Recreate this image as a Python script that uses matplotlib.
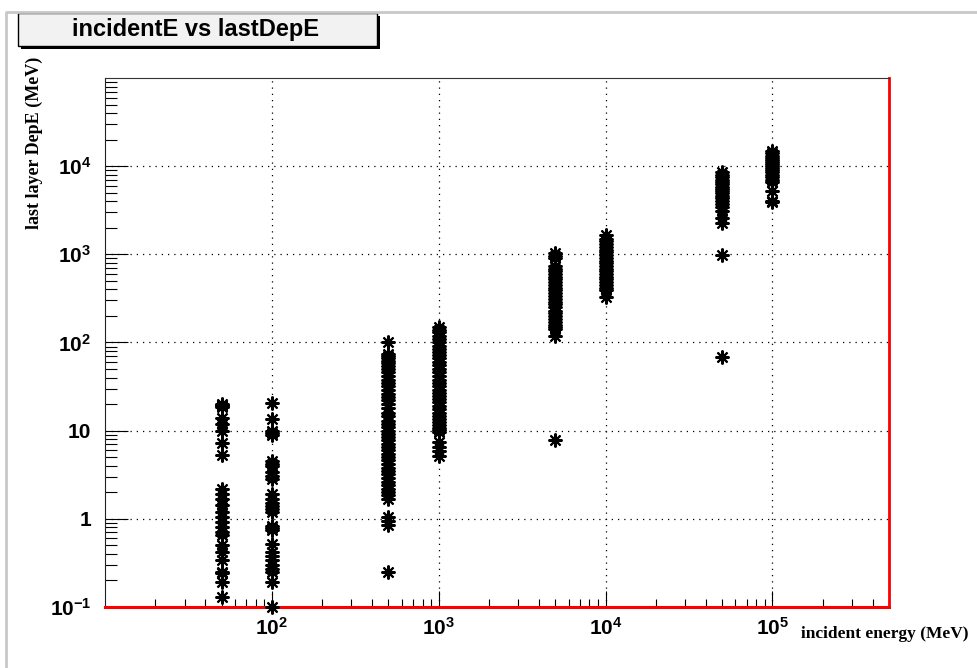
import matplotlib
matplotlib.use('Agg')
import matplotlib.pyplot as plt
from matplotlib.patches import Rectangle
from matplotlib.lines import Line2D
from matplotlib.ticker import LogLocator, NullFormatter

plt.rcParams['font.family'] = 'Liberation Sans'
plt.rcParams['mathtext.fontset'] = 'custom'
plt.rcParams['mathtext.rm'] = 'Liberation Sans:bold'
plt.rcParams['mathtext.it'] = 'Liberation Sans:bold'
plt.rcParams['mathtext.default'] = 'rm'

# incident beam energies [MeV]
e_in = [50, 100, 500, 1000, 5000, 10000, 50000, 100000]

# energy deposited in the last layer [MeV], one list per beam energy
dep_50 = [20, 19.5, 19, 18.5, 13.8, 12, 10, 7.3, 5.3,
          2.19, 1.92, 1.69, 1.42, 1.19, 1.05, 0.92, 0.81, 0.71, 0.65,
          0.5, 0.42, 0.34, 0.25, 0.24, 0.19, 0.13]
dep_100 = [20.6, 13.5, 10, 9.5, 9, 4.5, 4.2, 4, 3.4, 3.1, 2.8,
           1.9, 1.7, 1.5, 1.4, 1.3, 1.2, 0.83, 0.78, 0.74,
           0.52, 0.42, 0.38, 0.34, 0.3, 0.27, 0.25, 0.19, 0.1]
dep_500 = [102, 74, 70, 66, 62, 58, 54, 50, 46, 42, 38, 35, 32, 29, 26,
           24, 22, 20, 18, 16, 14.5, 13, 12, 11, 10, 9.2, 8.5, 7.8, 7.1,
           6.5, 6, 5.5, 5, 4.6, 4.2, 3.8, 3.5, 3.2, 2.9, 2.6, 2.4, 2.2,
           2.0, 1.85, 1.7, 1.05, 0.95, 0.85, 0.25]
dep_1000 = [148, 140, 130, 120, 110, 100, 92, 85, 78, 72, 66, 60, 55,
            50, 46, 42, 38, 35, 32, 29, 27, 25, 23, 21, 19, 17.5, 16,
            14.5, 13.5, 12.5, 11.5, 10.8, 10.2, 9.6, 7.4, 6.5, 5.9, 5.2]
dep_5000 = [1030, 960, 900, 740, 690, 640, 600, 560, 520, 480, 450, 420,
            390, 360, 335, 310, 290, 270, 250, 230, 215, 200, 185, 170,
            160, 150, 142, 118, 7.8]
dep_10000 = [1650, 1500, 1400, 1300, 1200, 1120, 1050, 980, 910, 850,
             790, 740, 690, 640, 600, 560, 520, 480, 450, 420, 390, 330]
dep_50000 = [8500, 8000, 7500, 7000, 6600, 6200, 5800, 5500, 5200, 4900,
             4600, 4300, 4000, 3700, 3400, 3100, 2600, 2250, 980, 69]
dep_100000 = [14800, 14000, 13200, 12500, 11800, 11200, 10600, 10000,
              9500, 9000, 8500, 8000, 7500, 7000, 6600, 5200, 4000, 3900]
deps = [dep_50, dep_100, dep_500, dep_1000, dep_5000, dep_10000,
        dep_50000, dep_100000]

x_ticks = [1e2, 1e3, 1e4, 1e5]
x_labels = ['$10^{2}$', '$10^{3}$', '$10^{4}$', '$10^{5}$']
y_ticks = [1e-1, 1, 10, 1e2, 1e3, 1e4]
y_labels = ['$10^{-1}$', '1', '10', '$10^{2}$', '$10^{3}$', '$10^{4}$']

fig = plt.figure(figsize=(9.77, 6.68), dpi=100)
ax = fig.add_axes([105/977, 1-607/668, 784/977, 529/668])

for e, d in zip(e_in, deps):
    ax.plot([e]*len(d), d, ls='none', marker=(8, 2, 0), ms=10, mew=1.5,
            color='k', clip_on=False, zorder=3)

ax.set_xscale('log')
ax.set_yscale('log')
ax.set_xlim(10, 5e5)
ax.set_ylim(0.1, 1e5)

ax.set_xticks(x_ticks)
ax.set_xticklabels(x_labels, fontsize=15, fontweight='bold')
ax.set_yticks(y_ticks)
ax.set_yticklabels(y_labels, fontsize=15, fontweight='bold')
ax.xaxis.set_minor_locator(LogLocator(base=10, subs=range(2, 10), numticks=20))
ax.yaxis.set_minor_locator(LogLocator(base=10, subs=range(2, 10), numticks=20))
ax.xaxis.set_minor_formatter(NullFormatter())
ax.yaxis.set_minor_formatter(NullFormatter())

ax.tick_params(axis='x', which='major', direction='in', length=11.5, width=0.8, pad=7)
ax.tick_params(axis='x', which='minor', direction='in', length=5.5, width=0.8)
ax.tick_params(axis='y', which='major', direction='in', length=16.5, width=0.8, pad=10)
ax.tick_params(axis='y', which='minor', direction='in', length=8.5, width=0.8)

ax.grid(True, which='major', color='k', lw=0.9, ls=(0, (1, 4)))

ax.spines['left'].set_color('#222222')
ax.spines['top'].set_color('#333333')
ax.spines['right'].set_color('red')
ax.spines['bottom'].set_color('red')
ax.spines['right'].set_linewidth(2)
ax.spines['bottom'].set_linewidth(2.2)

# axis titles, ROOT style
fig.text(34/977, 1-57/668, 'last layer DepE (MeV)', rotation=90,
         ha='center', va='top', family='Liberation Serif', fontweight='bold',
         fontsize=13)
fig.text(801/977, 1-638/668, 'incident energy (MeV)', ha='left',
         va='baseline', family='Liberation Serif', fontweight='bold',
         fontsize=12.5)

# title box with shadow
fig.patches.append(Rectangle((21/977, 1-49/668), 359/977, 33/668,
                             transform=fig.transFigure, fc='k', ec='none'))
fig.patches.append(Rectangle((18/977, 1-46/668), 359/977, 33/668,
                             transform=fig.transFigure, fc='#f2f2f2',
                             ec='k', lw=1))
fig.text(196/977, 1-29.5/668, 'incidentE vs lastDepE', ha='center',
         va='center', fontsize=17, fontweight='bold')

# light canvas border on top and left
fig.lines.append(Line2D([6/977, 6/977, 1], [0, 1-12/668, 1-12/668],
                        transform=fig.transFigure, color='#c8c8c8', lw=2))

fig.savefig('out.png', dpi=100)
